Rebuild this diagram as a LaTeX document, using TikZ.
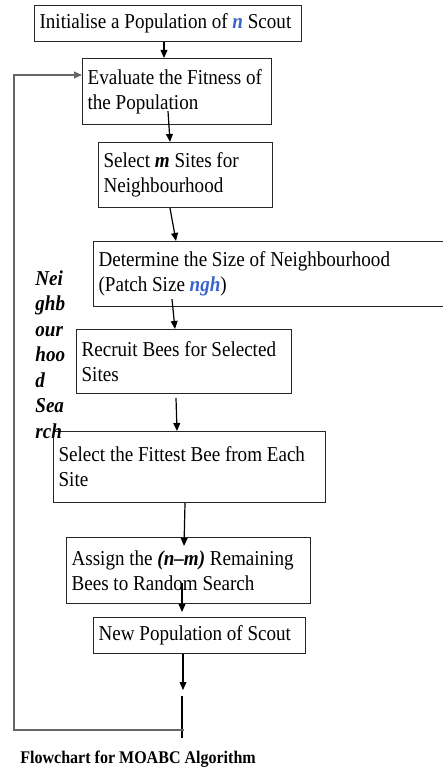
\documentclass[tikz,border=0pt]{standalone}
\usepackage{fontspec}
\setmainfont{Liberation Serif}[FakeStretch=0.9]
\usetikzlibrary{arrows.meta,calc}
\definecolor{ngblue}{RGB}{58,98,206}
\newcommand{\bivar}[1]{\textbf{\textit{#1}}}

\begin{document}
\begin{tikzpicture}[x=0.5pt,y=-0.5pt,
   font=\fontsize{10.6}{12.5}\selectfont,
   >={Triangle[length=4pt,width=3.4pt]},
   stage/.style={draw=black!85,line width=0.6pt,anchor=north west,align=flush left,inner xsep=2.5pt,inner ysep=0pt},
   flow/.style={->,line width=0.6pt},
   back/.style={line width=0.8pt,draw=black!60}]
   \useasboundingbox (0,0) rectangle (443,769);

   \node[stage,text width=128.5pt,minimum height=18pt] (init) at (34,5) {Initialise a Population of \textcolor{ngblue}{\bivar{n}} Scout};
   \node[stage,text width=89.5pt,minimum height=33pt] (eval) at (82,58) {Evaluate the Fitness of\\the Population};
   \node[stage,text width=82pt,minimum height=32.5pt] (sel) at (98,142) {Select \bivar{m} Sites for\\Neighbourhood};
   \node[stage,text width=171.5pt,minimum height=32.5pt] (det) at (93,241) {Determine the Size of Neighbourhood\\(Patch Size \textcolor{ngblue}{\bivar{ngh}})};
   \node[stage,text width=102.5pt,minimum height=32pt] (rec) at (76,329) {Recruit Bees for Selected\\Sites};
   \node[stage,text width=131pt,minimum height=35.5pt] (fit) at (53,431) {Select the Fittest Bee from Each\\Site};
   \node[stage,text width=117pt,minimum height=33pt] (asg) at (66,537) {Assign the \bivar{(n--m)} Remaining\\Bees to Random Search};
   \node[stage,text width=101pt,minimum height=18pt] (newp) at (93,617) {New Population of Scout};

   \node[anchor=north west,align=flush left,inner sep=0pt,font=\fontsize{10.6}{12.75}\selectfont\bfseries\itshape] (side) at (35,270) {Nei\\ghb\\our\\hoo\\d\\Sea\\rch};
   \node[anchor=base west,inner sep=0pt,font=\fontsize{8.9}{11}\selectfont\bfseries] (cap) at (20,763) {Flowchart for MOABC Algorithm};

   \draw[flow] ($(init.south west)+(130,0)$) -- ($(eval.north west)+(82,0)$);
   \draw[flow] ($(eval.south west)+(86,-14)$) -- ($(sel.north west)+(72,0)$);
   \draw[flow] ($(sel.south west)+(72,0)$) -- ($(det.north west)+(83,0)$);
   \draw[flow] ($(det.south west)+(79,-8)$) -- ($(rec.north west)+(99,0)$);
   \draw[flow] ($(rec.south west)+(100,4)$) -- ($(fit.north west)+(124,0)$);
   \draw[flow] ($(fit.south west)+(132,0)$) -- ($(asg.north west)+(118,9)$);
   \draw[flow] ($(asg.south west)+(116,-21)$) -- ($(newp.north west)+(89,-5)$);

   \coordinate (out) at (183,690);
   \coordinate (tail) at (182,696);
   \coordinate (foot) at (184,730);
   \coordinate (loop) at (14,75);
   \draw[flow] ($(newp.south west)+(90,0)$) -- (out);
   \draw[line width=0.6pt] (tail) -- ++(0,42);
   \draw[back,->] (foot) -| (loop) -- ($(eval.north west)+(0,17)$);
\end{tikzpicture}
\end{document}
